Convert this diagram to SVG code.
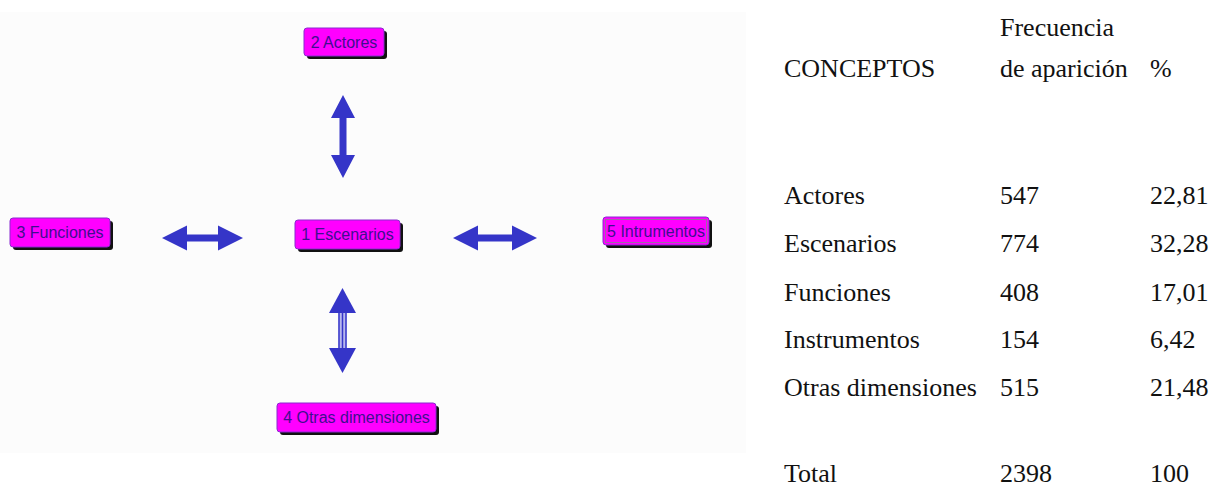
<svg xmlns="http://www.w3.org/2000/svg" width="1212" height="486" viewBox="0 0 1212 486">
<style>
.shadow{fill:#111;}
.box{fill:#ff00ff;stroke:#8a2bd0;stroke-width:1;}
.lbl{font-family:"Liberation Sans",Arial,sans-serif;font-size:16px;fill:#3f0f8f;text-anchor:middle;}
.arrow{fill:#3535c8;}
.tbl{font-family:"Liberation Serif","Times New Roman",serif;font-size:26px;fill:#111;}
</style>
<rect x="0" y="12" width="746" height="441" fill="#fcfcfc"/>
<g id="connectors">
<path class="arrow" d="M343,95 L355,118 L346.5,118 L346.5,155 L355,155 L343,178 L331,155 L339.5,155 L339.5,118 L331,118 Z"/>
<path class="arrow" d="M162,238 L187,225.5 L187,234.5 L218,234.5 L218,225.5 L243,238 L218,250.5 L218,241.5 L187,241.5 L187,250.5 Z"/>
<path class="arrow" d="M453,238 L478,225.5 L478,234.5 L512,234.5 L512,225.5 L537,238 L512,250.5 L512,241.5 L478,241.5 L478,250.5 Z"/>
<g id="arrow-bottom">
<rect x="338.5" y="312" width="8" height="37" fill="#b8b8ee"/>
<line x1="339" y1="312" x2="339" y2="349" stroke="#3535c8" stroke-width="1.5"/>
<line x1="342.5" y1="312" x2="342.5" y2="349" stroke="#3535c8" stroke-width="1.5"/>
<line x1="346" y1="312" x2="346" y2="349" stroke="#3535c8" stroke-width="1.5"/>
<path class="arrow" d="M342.5,288 L356,313 L329,313 Z"/>
<path class="arrow" d="M342.5,373 L356,348 L329,348 Z"/>
</g>
</g>
<g id="node-actores">
<rect class="shadow" x="307" y="31" width="80" height="28" rx="3"/>
<rect class="box" x="304" y="28" width="80" height="28" rx="3"/>
<text class="lbl" x="344" y="48">2 Actores</text>
</g>
<g id="node-funciones">
<rect class="shadow" x="13" y="221" width="100" height="29" rx="3"/>
<rect class="box" x="10" y="218" width="100" height="29" rx="3"/>
<text class="lbl" x="60" y="238">3 Funciones</text>
</g>
<g id="node-escenarios">
<rect class="shadow" x="298" y="223" width="105" height="29" rx="3"/>
<rect class="box" x="295" y="220" width="105" height="29" rx="3"/>
<text class="lbl" x="347.5" y="240">1 Escenarios</text>
</g>
<g id="node-instrumentos">
<rect class="shadow" x="606" y="220" width="106" height="28" rx="3"/>
<rect class="box" x="603" y="217" width="106" height="28" rx="3"/>
<rect x="605.5" y="219.5" width="101" height="23" fill="none" stroke="#9a6aa8" stroke-width="1"/>
<text class="lbl" x="656" y="237">5 Intrumentos</text>
</g>
<g id="node-otras">
<rect class="shadow" x="280" y="406" width="159" height="29" rx="3"/>
<rect class="box" x="277" y="403" width="159" height="29" rx="3"/>
<text class="lbl" x="356.5" y="423">4 Otras dimensiones</text>
</g>
<g id="table">
<text class="tbl" x="1000" y="36">Frecuencia</text>
<text class="tbl" x="784" y="77">CONCEPTOS</text>
<text class="tbl" x="1000" y="77">de aparición</text>
<text class="tbl" x="1150" y="77">%</text>
<text class="tbl" x="784" y="204">Actores</text>
<text class="tbl" x="1000" y="204">547</text>
<text class="tbl" x="1150" y="204">22,81</text>
<text class="tbl" x="784" y="252">Escenarios</text>
<text class="tbl" x="1000" y="252">774</text>
<text class="tbl" x="1150" y="252">32,28</text>
<text class="tbl" x="784" y="301">Funciones</text>
<text class="tbl" x="1000" y="301">408</text>
<text class="tbl" x="1150" y="301">17,01</text>
<text class="tbl" x="784" y="348">Instrumentos</text>
<text class="tbl" x="1000" y="348">154</text>
<text class="tbl" x="1150" y="348">6,42</text>
<text class="tbl" x="784" y="396">Otras dimensiones</text>
<text class="tbl" x="1000" y="396">515</text>
<text class="tbl" x="1150" y="396">21,48</text>
<text class="tbl" x="784" y="482">Total</text>
<text class="tbl" x="1000" y="482">2398</text>
<text class="tbl" x="1150" y="482">100</text>
</g>
</svg>
